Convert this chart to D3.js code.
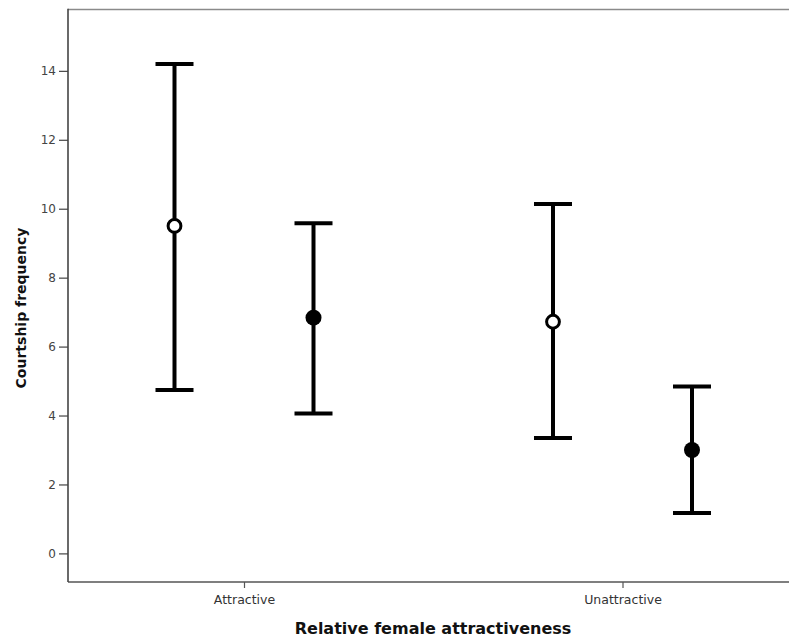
<!DOCTYPE html>
<html>
<head>
<meta charset="utf-8">
<script src="https://cdn.jsdelivr.net/npm/d3@7"></script>
<style>
  body { margin: 0; background: #fff; }
  svg { display: block; }
</style>
</head>
<body>
<svg width="789" height="639"></svg>
<script>
var svg = d3.select('svg');
var w = 789;
var h = 639;

// data
var categories = ["Attractive", "Unattractive"];
var series = ["open", "filled"];
var means = [[9.50, 6.84], [6.72, 3.00]];
var upper = [[14.20, 9.58], [10.14, 4.84]];
var lower = [[4.74, 4.06], [3.35, 1.17]];
var yTicks = [0, 2, 4, 6, 8, 10, 12, 14];

var mLeft = 68, mTop = 9.5, mBottom = 582;

var y = d3.scaleLinear().domain([-0.83, 15.78]).range([mBottom, mTop]);
var x = d3.scalePoint().domain(categories).range([mLeft, 798.5]).padding(0.465);
var sub = d3.scalePoint().domain(series).range([-69.5, 69.5]);

// flatten into points
var pts = [];
categories.forEach(function(c, i) {
  series.forEach(function(s, j) {
    pts.push({ cat: c, s: s, m: means[i][j], hi: upper[i][j], lo: lower[i][j] });
  });
});
function px(d) { return x(d.cat) + sub(d.s) }

// frame top line
svg.append("line")
  .attr("x1", mLeft).attr("x2", w)
  .attr("y1", mTop).attr("y2", mTop)
  .attr("stroke", "#8a8a8a").attr("stroke-width", 1.5);

// y axis
var ya = svg.append("g").attr("transform", "translate(" + mLeft + ",0)")
  .call(d3.axisLeft(y).tickValues(yTicks).tickSize(9).tickPadding(3));
ya.select(".domain").remove();
ya.selectAll(".tick line").attr("stroke", "#444").attr("stroke-width", 1.2);
ya.selectAll(".tick text").attr("fill", "#444")
  .style("font-family", "DejaVu Sans").style("font-size", "12px");

// x axis
var xa = svg.append("g").attr("transform", "translate(0," + mBottom + ")")
  .call(d3.axisBottom(x).tickSize(6).tickPadding(7));
xa.select(".domain").remove();
xa.selectAll(".tick line").attr("stroke", "#555").attr("stroke-width", 1.2);
xa.selectAll(".tick text").attr("fill", "#333")
  .style("font-family", "DejaVu Sans").style("font-size", "12.5px");

svg.append("line").attr("x1", mLeft).attr("x2", w).attr("y1", mBottom).attr("y2", mBottom)
  .attr("stroke", "#555").attr("stroke-width", 1.6);
svg.append("line").attr("x1", mLeft).attr("x2", mLeft).attr("y1", mTop - 0.75).attr("y2", mBottom)
  .attr("stroke", "#444").attr("stroke-width", 1.6);

// axis titles
svg.append("text")
  .attr("x", 433).attr("y", 634)
  .attr("text-anchor", "middle")
  .style("font-family", "DejaVu Sans").style("font-weight", "bold").style("font-size", "16px")
  .attr("fill", "#111")
  .text("Relative female attractiveness");

svg.append("text")
  .attr("transform", "translate(26,308) rotate(-90)")
  .attr("text-anchor", "middle")
  .style("font-family", "DejaVu Sans").style("font-weight", "bold").style("font-size", "14px")
  .attr("fill", "#111")
  .text("Courtship frequency");

// error bars
var g = svg.append("g");
g.selectAll("line.bar").data(pts).enter()
  .append("line").attr("class", "bar")
  .attr("x1", px).attr("x2", px)
  .attr("y1", function(d) { return y(d.hi) })
  .attr("y2", function(d) { return y(d.lo) })
  .attr("stroke", "#000").attr("stroke-width", 4);

["hi", "lo"].forEach(function(k) {
  g.selectAll("line.cap" + k).data(pts).enter()
    .append("line").attr("class", "cap" + k)
    .attr("x1", function(d) { return px(d) - 19 })
    .attr("x2", function(d) { return px(d) + 19 })
    .attr("y1", function(d) { return y(d[k]) })
    .attr("y2", function(d) { return y(d[k]) })
    .attr("stroke", "#000").attr("stroke-width", 4);
});

g.selectAll("circle").data(pts).enter()
  .append("circle")
  .attr("cx", px)
  .attr("cy", function(d) { return y(d.m) })
  .attr("r", function(d) { return d.s == "open" ? 6.4 : 8 })
  .attr("fill", function(d) { return d.s == "open" ? "#fff" : "#000" })
  .attr("stroke", "#000")
  .attr("stroke-width", function(d) { return d.s == "open" ? 3 : 0 });
</script>
</body>
</html>
